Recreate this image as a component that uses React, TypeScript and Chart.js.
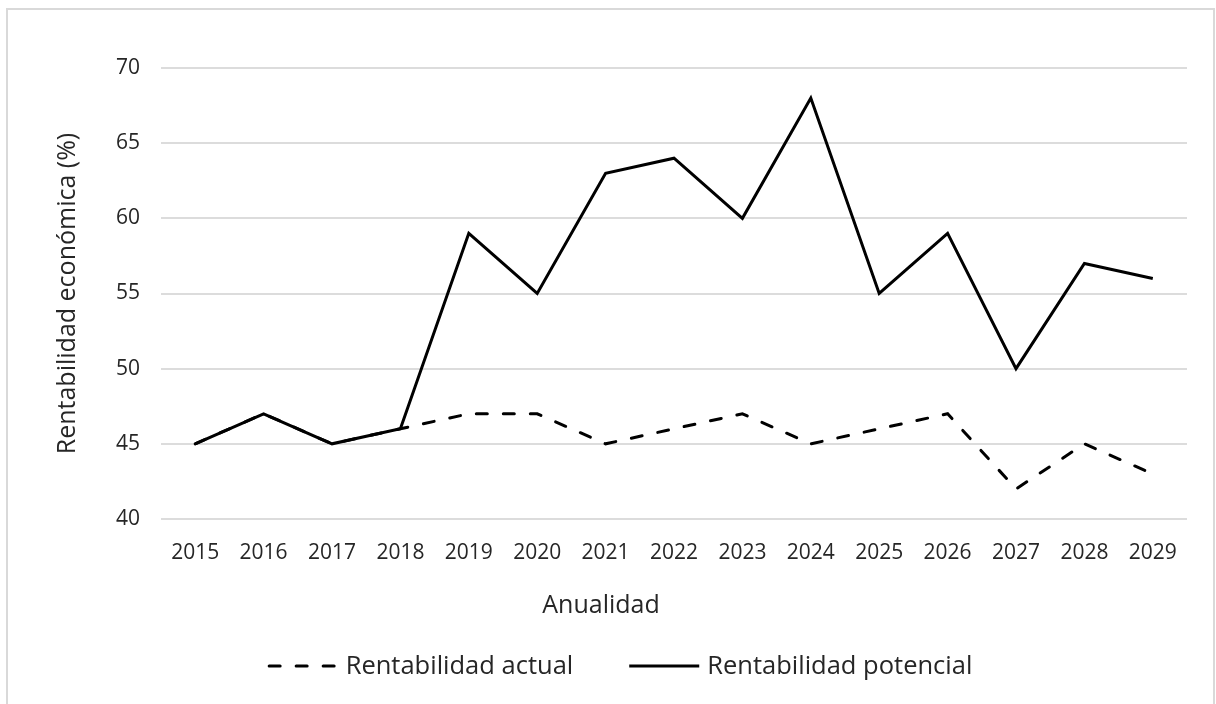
import React, { useEffect, useRef } from "react";
import { Chart, registerables } from "chart.js";

Chart.register(...registerables);

const years: string[] = [
  "2015", "2016", "2017", "2018", "2019", "2020", "2021", "2022",
  "2023", "2024", "2025", "2026", "2027", "2028", "2029",
];
const rentabilidadActual: number[] = [45, 47, 45, 46, 47, 47, 45, 46, 47, 45, 46, 47, 42, 45, 43];
const rentabilidadPotencial: number[] = [45, 47, 45, 46, 59, 55, 63, 64, 60, 68, 55, 59, 50, 57, 56];
const seriesLabels: string[] = ["Rentabilidad actual", "Rentabilidad potencial"];
const yAxisTitle = "Rentabilidad económica (%)";
const xAxisTitle = "Anualidad";

const FONT = '"Open Sans", "Noto Sans", sans-serif';
const TEXT = "#262626";
const DASH = [11, 16];

const customLegend = {
  id: "customLegend",
  afterDraw(chart: any) {
    const ctx: CanvasRenderingContext2D = chart.ctx;
    ctx.save();
    ctx.font = `25.5px ${FONT}`;
    const sampleW = 70;
    const textGap = 8;
    const itemGap = 56;
    const items = chart.data.datasets.map((ds: any) => ({
      label: ds.label as string,
      dash: (ds.borderDash || []) as number[],
      color: ds.borderColor as string,
      w: ctx.measureText(ds.label).width,
    }));
    const total =
      items.reduce((s: number, it: any) => s + sampleW + textGap + it.w, 0) +
      itemGap * (items.length - 1);
    let x = 620 - total / 2;
    const yLine = 666;
    const yBase = 674;
    for (const it of items) {
      ctx.beginPath();
      ctx.setLineDash(it.dash);
      ctx.lineCap = it.dash.length ? "round" : "butt";
      ctx.lineWidth = 3;
      ctx.strokeStyle = it.color;
      ctx.moveTo(x + (it.dash.length ? 1.5 : 0), yLine);
      ctx.lineTo(x + sampleW, yLine);
      ctx.stroke();
      ctx.setLineDash([]);
      ctx.fillStyle = TEXT;
      ctx.textAlign = "left";
      ctx.textBaseline = "alphabetic";
      ctx.fillText(it.label, x + sampleW + textGap, yBase);
      x += sampleW + textGap + it.w + itemGap;
    }
    ctx.restore();
  },
};

export default function App() {
  const canvasRef = useRef<HTMLCanvasElement | null>(null);

  useEffect(() => {
    if (!canvasRef.current) return;
    const chart = new Chart(canvasRef.current, {
      type: "line",
      data: {
        labels: years,
        datasets: [
          {
            label: seriesLabels[0],
            data: rentabilidadActual,
            borderColor: "#000000",
            backgroundColor: "#000000",
            borderWidth: 3,
            borderDash: DASH,
            borderCapStyle: "round",
            pointRadius: 0,
            pointHoverRadius: 0,
            tension: 0,
          },
          {
            label: seriesLabels[1],
            data: rentabilidadPotencial,
            borderColor: "#000000",
            backgroundColor: "#000000",
            borderWidth: 3,
            pointRadius: 0,
            pointHoverRadius: 0,
            tension: 0,
          },
        ],
      },
      options: {
        animation: false,
        responsive: false,
        maintainAspectRatio: false,
        layout: { padding: { left: 15, top: 68, right: 29, bottom: 0 } },
        plugins: {
          legend: { display: false },
          tooltip: { enabled: false },
          title: {
            display: true,
            position: "bottom",
            text: xAxisTitle,
            color: TEXT,
            font: { family: FONT, size: 25, weight: "normal" },
            padding: { top: 0, bottom: 83 },
          },
        },
        scales: {
          x: {
            offset: true,
            grid: { display: false, drawTicks: false },
            border: { display: false },
            ticks: {
              color: TEXT,
              font: { family: FONT, size: 21 },
              padding: 21,
              maxRotation: 0,
              autoSkip: false,
            },
            afterFit: (scale: any) => {
              scale.height = 72;
            },
          },
          y: {
            min: 40,
            max: 70,
            grid: { color: "#dcdcdc", lineWidth: 2, drawTicks: false },
            border: { display: false },
            ticks: {
              stepSize: 5,
              color: TEXT,
              font: { family: FONT, size: 21 },
              padding: 21,
            },
            title: {
              display: true,
              text: yAxisTitle,
              color: TEXT,
              font: { family: FONT, size: 25 },
              padding: { top: 38, bottom: 0 },
            },
            afterFit: (scale: any) => {
              scale.width = 146;
            },
          },
        },
      },
      plugins: [customLegend],
    });
    return () => chart.destroy();
  }, []);

  return (
    <div style={{ position: "fixed", left: 0, top: 0, width: 1216, height: 704, background: "#ffffff", overflow: "hidden" }}>
      <div
        style={{
          position: "absolute",
          left: 6,
          top: 8,
          width: 1205,
          height: 710,
          border: "2px solid #d9d9d9",
        }}
      />
      <canvas
        ref={canvasRef}
        width={1216}
        height={704}
        style={{ position: "absolute", left: 0, top: 0, width: 1216, height: 704 }}
      />
    </div>
  );
}
